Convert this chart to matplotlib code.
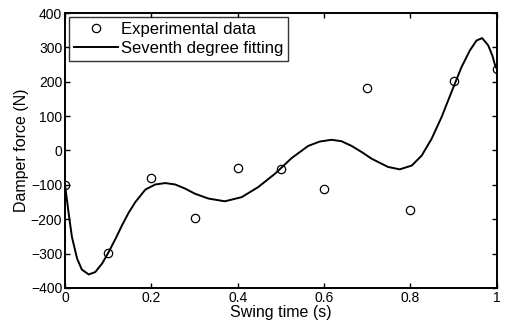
import matplotlib
matplotlib.use("Agg")
import matplotlib.pyplot as plt

plt.rcParams['font.family'] = ['Liberation Sans', 'DejaVu Sans']

# experimental points
swing_time = [0.0, 0.1, 0.2, 0.3, 0.4, 0.5, 0.6, 0.7, 0.8, 0.9, 1.0]
damper_force = [-100, -298, -80, -196, -51, -53, -112, 182, -173, 203, 237]

# seventh degree fitting curve
fit_time = [0.0, 0.0085, 0.016, 0.028, 0.039, 0.055, 0.070, 0.086, 0.101, 0.117,
            0.132, 0.147, 0.163, 0.186, 0.209, 0.232, 0.255, 0.278, 0.301, 0.332,
            0.370, 0.409, 0.447, 0.486, 0.525, 0.563, 0.590, 0.617, 0.640, 0.664,
            0.690, 0.710, 0.748, 0.775, 0.803, 0.826, 0.849, 0.872, 0.895, 0.918,
            0.9375, 0.953, 0.966, 0.980, 0.990, 0.995, 1.0]
fit_force = [-100, -184, -252, -315, -347, -361, -354, -329, -296, -257,
             -218, -182, -150, -114, -99, -95, -99, -111, -126, -140,
             -148, -136, -107, -68, -22, 13, 26, 31, 27, 13,
             -7, -24, -48, -55, -44, -15, 34, 97, 170, 242,
             291, 320, 327, 306, 275, 252, 237]

x_ticks = [0, 0.2, 0.4, 0.6, 0.8, 1]
x_tick_labels = ['0', '0.2', '0.4', '0.6', '0.8', '1']
y_ticks = [-400, -300, -200, -100, 0, 100, 200, 300, 400]

fig = plt.figure(figsize=(5.08, 3.26), dpi=100)
ax = fig.add_axes([0.128, 0.117, 0.850, 0.843])

ax.plot(swing_time, damper_force, 'o', mfc='none', mec='black', ms=6, mew=0.9,
        label='Experimental data')
ax.plot(fit_time, fit_force, '-', color='black', lw=1.4, label='Seventh degree fitting')

ax.set_xlim(0, 1)
ax.set_ylim(-400, 400)
ax.set_xticks(x_ticks)
ax.set_xticklabels(x_tick_labels)
ax.set_yticks(y_ticks)
ax.tick_params(direction='in', top=True, right=True, length=3.5, width=1,
               labelsize=10, pad=2)
for s in ax.spines.values():
    s.set_linewidth(1.4)

ax.set_xlabel('Swing time (s)', fontsize=11.5, labelpad=0)
ax.set_ylabel('Damper force (N)', fontsize=11.5, labelpad=1)

leg = ax.legend(loc='upper left', fontsize=12, frameon=True, fancybox=False,
                edgecolor='black', handlelength=2.6, borderaxespad=0.25,
                borderpad=0.3, labelspacing=0.2, handletextpad=0.2)
leg.get_frame().set_linewidth(1.0)

fig.savefig('out.png', dpi=100)
